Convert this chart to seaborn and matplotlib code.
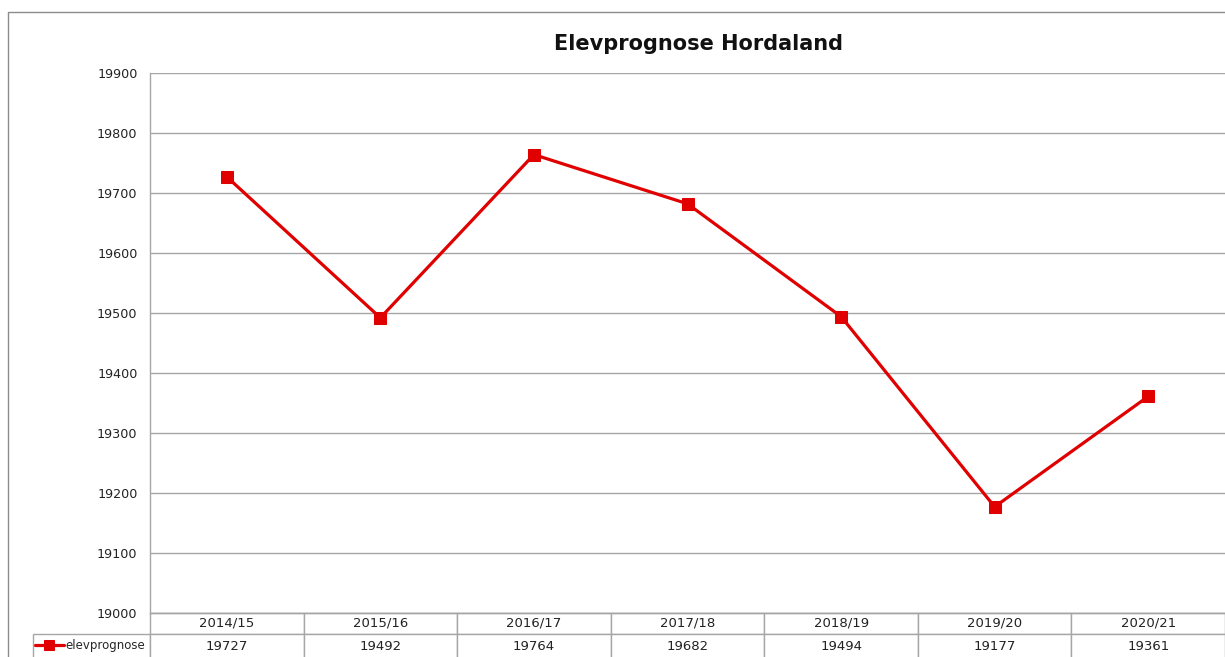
import matplotlib
matplotlib.use("Agg")
import matplotlib.pyplot as plt
import seaborn as sns
import pandas as pd
from matplotlib.patches import Rectangle

# data
years = ["2014/15", "2015/16", "2016/17", "2017/18", "2018/19", "2019/20", "2020/21"]
elevprognose = [19727, 19492, 19764, 19682, 19494, 19177, 19361]
y_ticks = [19000, 19100, 19200, 19300, 19400, 19500, 19600, 19700, 19800, 19900]

RED = "#E00000"
GRID = "#A6A6A6"

sns.set_theme(style="white")
plt.rcParams["font.family"] = ["DejaVu Sans"]

W, H = 1225, 657
fig = plt.figure(figsize=(W / 100, H / 100), dpi=100)

# plot area in pixel terms
left, right, top, bottom = 150, 1225, 73, 613
ax = fig.add_axes([left / W, 1 - bottom / H, (right - left) / W, (bottom - top) / H])

df = pd.DataFrame({"år": years, "elevprognose": elevprognose})
sns.lineplot(data=df, x="år", y="elevprognose", ax=ax, color=RED, linewidth=2.3,
             marker="s", markersize=8.5, markeredgecolor=RED, label="elevprognose",
             sort=False)

ax.set_xlim(-0.5, len(years) - 0.5)
ax.set_ylim(19000, 19900)
ax.set_yticks(y_ticks)
ax.set_yticklabels([str(v) for v in y_ticks], fontsize=9.2, color="#222222")
ax.tick_params(axis="y", length=0, pad=9)
ax.set_xticks([])
ax.set_xlabel("")
ax.set_ylabel("")
ax.yaxis.grid(True, color=GRID, linewidth=1)
ax.set_axisbelow(True)
for side in ["top", "right"]:
    ax.spines[side].set_visible(False)
for side in ["left", "bottom"]:
    ax.spines[side].set_color(GRID)
    ax.spines[side].set_linewidth(1)

# legend key sitting in the data table row label cell
ax.legend(loc="center left", bbox_to_anchor=(34 / W, 1 - 646 / H),
          bbox_transform=fig.transFigure, frameon=False, fontsize=8.5,
          handlelength=2.4, handletextpad=0.2, borderaxespad=0, borderpad=0.1,
          markerscale=0.9)

# data table below the plot (bottom edge falls just outside the canvas)
tbl_left = 33
col0_w = left - tbl_left
col_w = (right - left) / len(years)
row0_h, row1_h = 21, 25
cell_text = [[""] + years, [""] + [str(v) for v in elevprognose]]
tbl = ax.table(cellText=cell_text, cellLoc="center",
               bbox=[(tbl_left - left) / (right - left), -(row0_h + row1_h) / (bottom - top),
                     (right - tbl_left) / (right - left), (row0_h + row1_h) / (bottom - top)])
tbl.auto_set_font_size(False)
tbl.set_fontsize(9.5)
for (r, c), cell in tbl.get_celld().items():
    cell.set_edgecolor(GRID)
    cell.set_linewidth(1)
    cell.set_width(col0_w if c == 0 else col_w)
    cell.set_height(row0_h if r == 0 else row1_h)
    cell.get_text().set_color("#222222")
tbl[(0, 0)].visible_edges = ""

# outer chart frame
fig.add_artist(Rectangle((8 / W, -0.1), 1.2, 1.1 - 12 / H, transform=fig.transFigure,
                         fill=False, edgecolor="#8C8C8C", linewidth=1))

fig.text(699 / W, 1 - 44 / H, "Elevprognose Hordaland", ha="center", va="center",
         fontsize=15, fontweight="bold", color="#111111")

fig.savefig("out.png", dpi=100)
